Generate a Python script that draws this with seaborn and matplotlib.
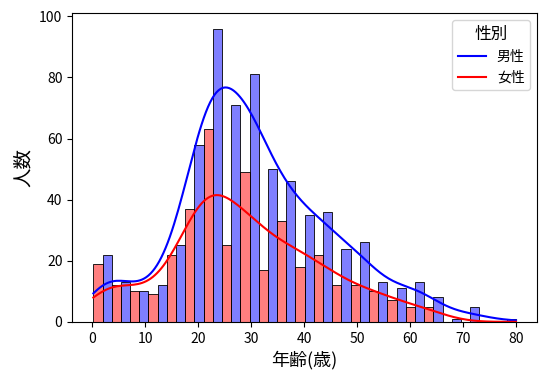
import numpy as np
import pandas as pd
import seaborn as sns
import matplotlib.pyplot as plt
from matplotlib.lines import Line2D

plt.rcParams['font.family'] = ['Noto Sans CJK JP', 'DejaVu Sans']

# histogram bins (age)
age_min = 0.17
age_max = 80
n_bins = 23

# counts per bin
female = [19, 12, 10, 9, 22, 37, 63, 25, 49, 17, 33, 18, 22, 12, 12, 10, 7, 5, 5, 0, 0, 0, 0]
male = [22, 13, 10, 12, 25, 58, 96, 71, 81, 50, 46, 35, 36, 24, 26, 13, 11, 13, 8, 1, 5, 0, 1]
sexes = ['女性', '男性']
colors = {'男性': 'blue', '女性': 'red'}

edges = np.linspace(age_min, age_max, n_bins + 1)
centers = (edges[:-1] + edges[1:]) / 2

# one row per person, placed at the centre of its bin
df = pd.DataFrame({
    '年齢': np.concatenate([np.repeat(centers, female), np.repeat(centers, male)]),
    '性別': ['女性'] * sum(female) + ['男性'] * sum(male),
})

fig, ax = plt.subplots(figsize=(5.47, 3.8), dpi=100)
sns.histplot(data=df, x='年齢', hue='性別', hue_order=sexes,
             palette=colors, bins=edges, multiple='dodge', kde=True,
             kde_kws={'cut': 1, 'clip': (age_min, age_max)},
             edgecolor='black', linewidth=0.6, legend=False, ax=ax)

handles = [Line2D([], [], color='blue'), Line2D([], [], color='red')]
ax.legend(handles, ['男性', '女性'], title='性別', title_fontsize=12, fontsize=10, loc='upper right')
ax.set_xlabel('年齢(歳)', fontsize=13)
ax.set_ylabel('人数', fontsize=14)
ax.set_xticks(range(0, 81, 10))
ax.set_ylim(0, 101)
plt.subplots_adjust(left=0.132, right=0.982, bottom=0.153, top=0.965)
plt.savefig('out.png')
